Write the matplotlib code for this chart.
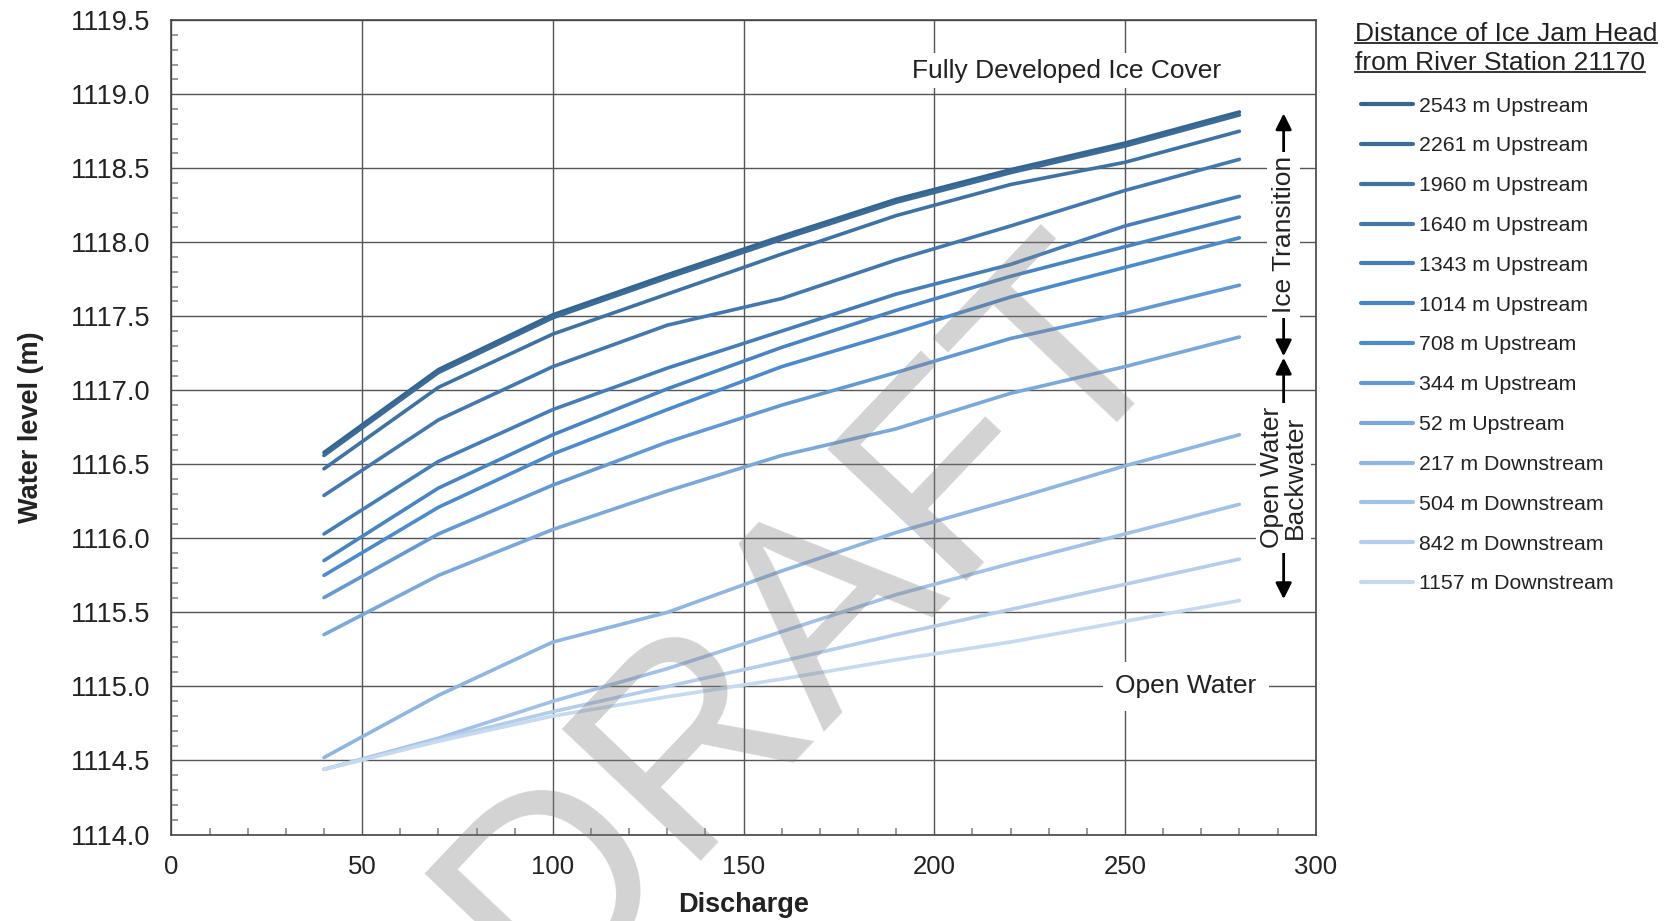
import matplotlib
matplotlib.use("Agg")
from matplotlib import pyplot as plt
from matplotlib.lines import Line2D
from matplotlib.ticker import MultipleLocator, FormatStrFormatter

plt.rcParams['font.family'] = ['Liberation Sans', 'DejaVu Sans']

# discharge values where the runs were made
discharge = [40, 70, 100, 130, 160, 190, 220, 250, 280]

labels = ["2543 m Upstream", "2261 m Upstream", "1960 m Upstream", "1640 m Upstream",
          "1343 m Upstream", "1014 m Upstream", "708 m Upstream", "344 m Upstream",
          "52 m Upstream", "217 m Downstream", "504 m Downstream", "842 m Downstream",
          "1157 m Downstream"]

up2543 = [1116.58, 1117.14, 1117.51, 1117.78, 1118.04, 1118.29, 1118.49, 1118.67, 1118.88]
up2261 = [1116.56, 1117.12, 1117.49, 1117.76, 1118.02, 1118.27, 1118.47, 1118.65, 1118.86]
up1960 = [1116.47, 1117.02, 1117.38, 1117.65, 1117.92, 1118.18, 1118.39, 1118.54, 1118.75]
up1640 = [1116.29, 1116.80, 1117.16, 1117.44, 1117.62, 1117.88, 1118.11, 1118.35, 1118.56]
up1343 = [1116.03, 1116.52, 1116.87, 1117.15, 1117.40, 1117.65, 1117.85, 1118.11, 1118.31]
up1014 = [1115.85, 1116.34, 1116.70, 1117.01, 1117.29, 1117.54, 1117.77, 1117.97, 1118.17]
up708 = [1115.75, 1116.21, 1116.57, 1116.87, 1117.16, 1117.39, 1117.63, 1117.83, 1118.03]
up344 = [1115.60, 1116.03, 1116.36, 1116.65, 1116.90, 1117.12, 1117.35, 1117.52, 1117.71]
up52 = [1115.35, 1115.75, 1116.06, 1116.32, 1116.56, 1116.74, 1116.98, 1117.16, 1117.36]
down217 = [1114.52, 1114.94, 1115.30, 1115.50, 1115.78, 1116.04, 1116.26, 1116.49, 1116.70]
down504 = [1114.44, 1114.65, 1114.90, 1115.12, 1115.37, 1115.62, 1115.83, 1116.03, 1116.23]
down842 = [1114.44, 1114.64, 1114.83, 1115.00, 1115.17, 1115.35, 1115.52, 1115.69, 1115.86]
down1157 = [1114.44, 1114.63, 1114.80, 1114.93, 1115.05, 1115.18, 1115.30, 1115.44, 1115.58]

series = [up2543, up2261, up1960, up1640, up1343, up1014, up708, up344, up52,
          down217, down504, down842, down1157]

colors = ['#35668f', '#3a6c99', '#3e72a3', '#4278ad', '#457eb7', '#4884c1', '#4b8bcb',
          '#6399d3', '#79a8d9', '#8fb5e1', '#a1c1e6', '#b3cdea', '#c6daef']

txt = '#222222'

fig = plt.figure(figsize=(16.69, 9.21), dpi=100)
ax = fig.add_axes([0.1027, 0.0939, 0.6856, 0.8842])

for vals, lab, col in zip(series, labels, colors):
    ax.plot(discharge, vals, color=col, lw=2.6, label=lab, solid_capstyle='round', zorder=3)

ax.set_xlim(0, 300)
ax.set_ylim(1114.0, 1119.5)
ax.xaxis.set_major_locator(MultipleLocator(50))
ax.xaxis.set_minor_locator(MultipleLocator(10))
ax.yaxis.set_major_locator(MultipleLocator(0.5))
ax.yaxis.set_minor_locator(MultipleLocator(0.1))
ax.yaxis.set_major_formatter(FormatStrFormatter('%.1f'))
ax.grid(True, which='major', color='#555555', lw=1.0)
ax.set_axisbelow(True)
ax.tick_params(which='major', length=0, labelsize=18.5, labelcolor=txt, pad=15)
ax.tick_params(axis='y', which='major', labelsize=19.5)
ax.tick_params(which='minor', direction='in', length=5, color='#888888', width=1.2)
for s in ax.spines.values():
    s.set_color('#444444')
    s.set_linewidth(1.2)

ax.set_ylabel("Water level (m)", fontsize=19.5, fontweight='bold', color=txt)
ax.yaxis.set_label_coords(-0.111, 0.5)
ax.set_xlabel("Discharge", fontsize=19.5, fontweight='bold', color=txt)
ax.xaxis.set_label_coords(0.5, -0.071)

# region annotations
ax.text(234.6, 1119.16, "Fully Developed Ice Cover", fontsize=19, color=txt,
        ha='center', va='center', bbox=dict(fc='white', ec='none', pad=4), zorder=4)
ax.text(266, 1115.0, "Open Water", fontsize=19, color=txt, ha='center', va='center',
        bbox=dict(fc='white', ec='none', pad=9), zorder=4)

arrow = dict(arrowstyle='<|-|>', lw=2.0, color='black', mutation_scale=24,
             shrinkA=0, shrinkB=0)
ax.annotate("", xy=(291.6, 1118.87), xytext=(291.6, 1117.23), arrowprops=arrow, zorder=4)
ax.annotate("", xy=(291.6, 1117.22), xytext=(291.6, 1115.59), arrowprops=arrow, zorder=4)
ax.text(291.6, 1118.05, "Ice Transition", fontsize=19, color=txt, rotation=90,
        ha='center', va='center', bbox=dict(fc='white', ec='none', pad=3), zorder=5)
ax.text(291.6, 1116.41, "Open Water\nBackwater", fontsize=19, color=txt, rotation=90,
        ha='center', va='center', linespacing=0.95,
        bbox=dict(fc='white', ec='none', pad=3), zorder=5)

# legend with underlined title
leg = fig.legend(loc='upper left', bbox_to_anchor=(0.8157, 0.8952), frameon=False,
                 fontsize=15.3, handlelength=2.45, handletextpad=0.25, labelspacing=0.98,
                 borderaxespad=0, borderpad=0)
for t in leg.get_texts():
    t.set_color(txt)
for h in leg.get_lines():
    h.set_linewidth(3)

t1 = fig.text(0.8119, 0.9633, "Distance of Ice Jam Head", fontsize=19, color=txt, va='center')
t2 = fig.text(0.8119, 0.9321, "from River Station 21170", fontsize=19, color=txt, va='center')

fig.text(0.484, 0.326, "DRAFT", fontsize=200, rotation=46.5, color='0.5', alpha=0.35,
         ha='center', va='center', rotation_mode='anchor', zorder=10)

fig.canvas.draw()
r = fig.canvas.get_renderer()
for t in (t1, t2):
    bb = t.get_window_extent(r)
    yy = (bb.y0 + 2.5) / fig.bbox.height
    fig.add_artist(Line2D([bb.x0 / fig.bbox.width, bb.x1 / fig.bbox.width], [yy, yy],
                          color=txt, lw=1.3))

fig.savefig("out.png", dpi=100)
